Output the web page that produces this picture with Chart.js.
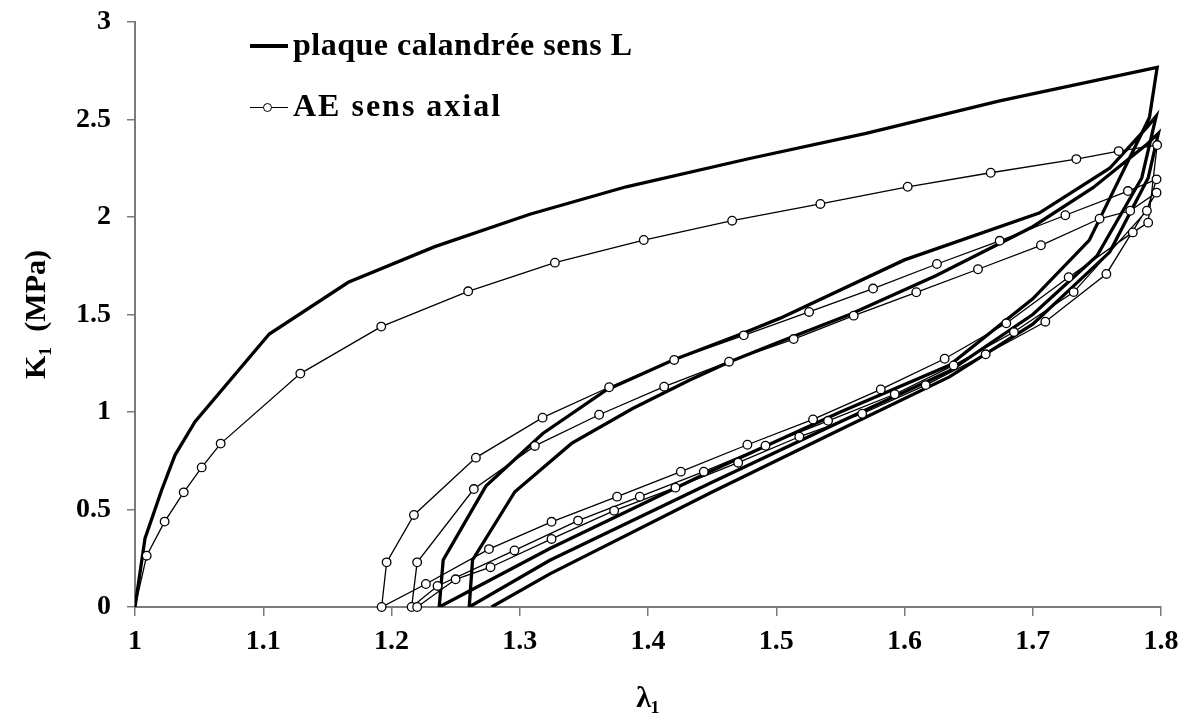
<!DOCTYPE html>
<html>
<head>
<meta charset="utf-8">
<script src="https://cdn.jsdelivr.net/npm/chart.js@4.4.1/dist/chart.umd.min.js"></script>
<style>
  body { margin: 0; background: #fff; }
  #wrap { position: relative; width: 1188px; height: 723px; }
  .lg-text { position: absolute; left: 293px; font: bold 32px "Liberation Serif", serif; letter-spacing: 0.5px; line-height: 1; color: #000; white-space: nowrap; }
  .lg-line { position: absolute; left: 250px; width: 38px; background: #000; }
  .lg-dot { position: absolute; width: 7px; height: 7px; border: 1.4px solid #000; border-radius: 50%; background: #fff; }
</style>
</head>
<body>
<div id="wrap">
  <canvas id="chart" width="1188" height="723"></canvas>
  <div class="lg-line" style="top:44px;height:3.5px"></div>
  <div class="lg-text" style="top:28px">plaque calandrée sens L</div>
  <div class="lg-line" style="top:107px;height:1.4px"></div>
  <div class="lg-dot" style="left:263px;top:103px"></div>
  <div class="lg-text" style="top:89px;letter-spacing:2px">AE sens axial</div>
</div>
<script>
// axes
const xTicks = [1, 1.1, 1.2, 1.3, 1.4, 1.5, 1.6, 1.7, 1.8];
const xTickLabels = ['1', '1.1', '1.2', '1.3', '1.4', '1.5', '1.6', '1.7', '1.8'];
const yTicks = [0, 0.5, 1, 1.5, 2, 2.5, 3];
const yTickLabels = ['0', '0.5', '1', '1.5', '2', '2.5', '3'];

// plaque calandrée sens L (lambda, K)
const plaqueLoad1X = [1.000, 1.0078, 1.0208, 1.0312, 1.0468, 1.1047, 1.1663, 1.2338, 1.3079, 1.383, 1.4793, 1.570, 1.6742, 1.797];
const plaqueLoad1Y = [0, 0.352, 0.600, 0.779, 0.950, 1.400, 1.665, 1.848, 2.014, 2.155, 2.300, 2.429, 2.595, 2.767];
const plaqueUnload1X = [1.791, 1.744, 1.700, 1.635, 1.550, 1.450, 1.3235, 1.2372];
const plaqueUnload1Y = [2.510, 1.880, 1.580, 1.240, 1.000, 0.700, 0.300, 0];
const plaqueLoad2X = [1.2403, 1.2736, 1.318, 1.3676, 1.4196, 1.4741, 1.5027, 1.600, 1.705, 1.760, 1.789, 1.7963];
const plaqueLoad2Y = [0.241, 0.620, 0.890, 1.113, 1.267, 1.404, 1.480, 1.780, 2.020, 2.250, 2.460, 2.518];
const plaqueUnload2X = [1.785, 1.750, 1.700, 1.635, 1.550, 1.450, 1.3235, 1.2606];
const plaqueUnload2Y = [2.200, 1.800, 1.500, 1.210, 0.950, 0.640, 0.240, 0];
const plaqueLoad3X = [1.2632, 1.2962, 1.3404, 1.3884, 1.4326, 1.4638, 1.5027, 1.5573, 1.6248, 1.700, 1.747, 1.7885, 1.798];
const plaqueLoad3Y = [0.241, 0.591, 0.839, 1.019, 1.164, 1.258, 1.360, 1.500, 1.700, 1.950, 2.150, 2.370, 2.430];
const plaqueUnload3X = [1.790, 1.760, 1.700, 1.635, 1.550, 1.450, 1.3235, 1.278];
const plaqueUnload3Y = [2.200, 1.820, 1.450, 1.180, 0.910, 0.590, 0.170, 0];

// AE sens axial (lambda, K)
const aeLoad1X = [1.000, 1.0091, 1.0231, 1.038, 1.052, 1.0668, 1.1289, 1.192, 1.2598, 1.3274, 1.3967, 1.4656, 1.5344, 1.6025, 1.6672, 1.734, 1.767, 1.797];
const aeLoad1Y = [0, 0.263, 0.438, 0.588, 0.716, 0.838, 1.197, 1.438, 1.619, 1.766, 1.882, 1.981, 2.067, 2.155, 2.227, 2.297, 2.338, 2.369];
const aeUnload1X = [1.790, 1.778, 1.728, 1.6794, 1.6313, 1.5815, 1.5287, 1.4775, 1.4256, 1.3759, 1.3248, 1.276, 1.2268, 1.1923];
const aeUnload1Y = [1.971, 1.921, 1.691, 1.455, 1.273, 1.116, 0.962, 0.832, 0.694, 0.566, 0.437, 0.297, 0.118, 0];
const aeLoad2X = [1.1962, 1.2175, 1.2658, 1.3178, 1.3697, 1.4204, 1.4747, 1.5256, 1.5755, 1.6253, 1.6742, 1.7254, 1.7742, 1.7965];
const aeLoad2Y = [0.229, 0.472, 0.766, 0.971, 1.127, 1.267, 1.393, 1.513, 1.633, 1.759, 1.878, 2.009, 2.133, 2.193];
const aeUnload2X = [1.789, 1.7319, 1.6853, 1.6383, 1.5924, 1.5404, 1.4916, 1.4435, 1.3936, 1.3455, 1.2959, 1.2359, 1.2157];
const aeUnload2Y = [2.032, 1.615, 1.410, 1.239, 1.091, 0.955, 0.827, 0.694, 0.566, 0.443, 0.290, 0.108, 0];
const aeLoad3X = [1.220, 1.2642, 1.3118, 1.3619, 1.4126, 1.4632, 1.5136, 1.5604, 1.6092, 1.6573, 1.7064, 1.7521, 1.776, 1.7965];
const aeLoad3Y = [0.229, 0.605, 0.826, 0.986, 1.130, 1.258, 1.374, 1.494, 1.614, 1.732, 1.855, 1.991, 2.032, 2.125];
const aeUnload3X = [1.7574, 1.7098, 1.6633, 1.6165, 1.567, 1.518, 1.4703, 1.4214, 1.3736, 1.3248, 1.2772, 1.250, 1.220];
const aeUnload3Y = [1.708, 1.463, 1.296, 1.138, 0.991, 0.873, 0.740, 0.612, 0.494, 0.349, 0.204, 0.142, 0];

function toPoints(xs, ys) {
    return xs.map((x, i) => ({ x: x, y: ys[i] }));
}

const plaquePoints = [].concat(
    toPoints(plaqueLoad1X, plaqueLoad1Y), toPoints(plaqueUnload1X, plaqueUnload1Y),
    toPoints(plaqueLoad2X, plaqueLoad2Y), toPoints(plaqueUnload2X, plaqueUnload2Y),
    toPoints(plaqueLoad3X, plaqueLoad3Y), toPoints(plaqueUnload3X, plaqueUnload3Y)
);
const aePoints = [].concat(
    toPoints(aeLoad1X, aeLoad1Y), toPoints(aeUnload1X, aeUnload1Y),
    toPoints(aeLoad2X, aeLoad2Y), toPoints(aeUnload2X, aeUnload2Y),
    toPoints(aeLoad3X, aeLoad3Y), toPoints(aeUnload3X, aeUnload3Y)
);

const tickFont = { family: '"Liberation Serif", serif', size: 28, weight: 'bold' };
const titleFont = { family: '"Liberation Serif", serif', size: 30, weight: 'bold' };
const axisGrey = '#7a7a7a';

const ctx = document.getElementById('chart').getContext('2d');
new Chart(ctx, {
    type: 'scatter',
    data: {
        datasets: [
            {
                label: 'AE sens axial',
                data: aePoints,
                showLine: true,
                borderColor: '#000',
                borderWidth: 1.3,
                pointRadius: c => (c.dataIndex === 0 ? 0 : 4.3),
                pointBackgroundColor: '#fff',
                pointBorderColor: '#000',
                pointBorderWidth: 1.3,
                tension: 0,
                order: 1,
                clip: false
            },
            {
                label: 'plaque calandrée sens L',
                data: plaquePoints,
                showLine: true,
                borderColor: '#000',
                borderWidth: 3.3,
                borderJoinStyle: 'miter',
                pointRadius: 0,
                tension: 0,
                order: 2
            }
        ]
    },
    options: {
        responsive: false,
        animation: false,
        events: [],
        layout: { padding: { top: 22, right: 27, left: 0, bottom: 0 } },
        plugins: { legend: { display: false }, tooltip: { enabled: false } },
        scales: {
            x: {
                type: 'linear',
                min: 1,
                max: 1.8,
                afterBuildTicks: s => { s.ticks = xTicks.map(v => ({ value: v })); },
                afterFit: s => { s.height = 116; s.paddingLeft = 0; s.paddingRight = 0; },
                ticks: { callback: (v, i) => xTickLabels[i], font: tickFont, color: '#000', padding: 9, maxRotation: 0, autoSkip: false },
                grid: { drawOnChartArea: false, drawTicks: true, tickLength: 9, color: axisGrey, lineWidth: 1.5 },
                border: { display: true, color: axisGrey, width: 2 },
                title: { display: true, text: 'λ₁', font: titleFont, color: '#000', padding: { top: 0, bottom: 6 } }
            },
            y: {
                type: 'linear',
                min: 0,
                max: 3,
                afterBuildTicks: s => { s.ticks = yTicks.map(v => ({ value: v })); },
                afterFit: s => { s.width = 135; s.paddingTop = 0; s.paddingBottom = 0; },
                ticks: { callback: (v, i) => yTickLabels[i], font: tickFont, color: '#000', padding: 16 },
                grid: { drawOnChartArea: false, drawTicks: true, tickLength: 8, color: axisGrey, lineWidth: 1.5 },
                border: { display: true, color: axisGrey, width: 2 },
                title: { display: true, text: 'K₁  (MPa)', font: titleFont, color: '#000', padding: { top: 19, bottom: 0 } }
            }
        }
    }
});
</script>
</body>
</html>
